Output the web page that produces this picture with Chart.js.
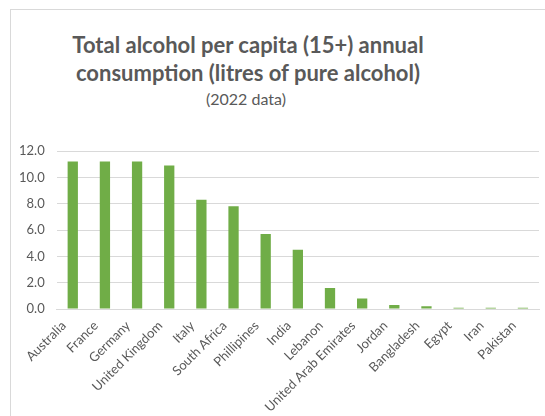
<!DOCTYPE html>
<html lang="en">
<head>
    <meta charset="UTF-8">
    <title>Total alcohol per capita</title>
    <script src="https://cdn.jsdelivr.net/npm/chart.js"></script>
    <style>
        html, body { margin: 0; padding: 0; background: #fff; }
        body { width: 545px; height: 416px; position: relative; overflow: hidden; font-family: Lato, "Open Sans", sans-serif; }
        .marco { position: absolute; left: 10px; top: 9px; width: 600px; height: 500px; border: 1px solid #d9d9d9; box-sizing: border-box; }
        .titulo { position: absolute; left: 0; width: 496px; top: 31px; text-align: center; color: #595959; font-weight: bold; font-size: 22px; line-height: 28px; }
        .subtitulo { position: absolute; left: 0; width: 492px; top: 89px; text-align: center; color: #595959; font-size: 16px; }
        .lienzo { position: absolute; left: 0; top: 0; width: 545px; height: 416px; }
    </style>
</head>
<body>
    <div class="marco"></div>
    <div class="titulo">Total alcohol per capita (15+) annual<br>consumption (litres of pure alcohol)</div>
    <div class="subtitulo">(2022 data)</div>
    <div class="lienzo"><canvas id="grafico"></canvas></div>

    <script>
        const paises = ["Australia", "France", "Germany", "United Kingdom", "Italy", "South Africa", "Phillipines",
            "India", "Lebanon", "United Arab Emirates", "Jordan", "Bangladesh", "Egypt", "Iran", "Pakistan"];
        const litros = [11.2, 11.2, 11.2, 10.9, 8.3, 7.8, 5.7, 4.5, 1.6, 0.8, 0.3, 0.2, 0.1, 0.1, 0.1];
        const marcasY = [0, 2, 4, 6, 8, 10, 12];

        const gris = '#595959';
        let ctx = document.getElementById('grafico').getContext('2d');
        let chart = new Chart(ctx, {
            type: 'bar',
            data: {
                labels: paises,
                datasets: [{ data: litros, backgroundColor: '#70ad47', barPercentage: 0.32, categoryPercentage: 1 }]
            },
            options: {
                responsive: true,
                maintainAspectRatio: false,
                animation: false,
                layout: { padding: { left: 7, right: 6, top: 151, bottom: 0 } },
                plugins: { legend: { display: false }, tooltip: { enabled: false } },
                scales: {
                    x: {
                        afterFit: eje => { eje.height = 107; },
                        grid: { display: false, drawTicks: false },
                        border: { color: '#d9d9d9' },
                        ticks: { color: gris, font: { family: 'Lato', size: 13 }, minRotation: 45, maxRotation: 45, autoSkip: false, padding: 9, labelOffset: -9 }
                    },
                    y: {
                        min: 0, max: 12,
                        afterBuildTicks: eje => { eje.ticks = marcasY.map(v => ({ value: v })); },
                        grid: { color: '#d9d9d9', drawTicks: false },
                        border: { display: false },
                        ticks: { color: gris, font: { family: 'Lato', size: 13 }, padding: 12, callback: v => v.toFixed(1) }
                    }
                }
            }
        });
    </script>
</body>
</html>
